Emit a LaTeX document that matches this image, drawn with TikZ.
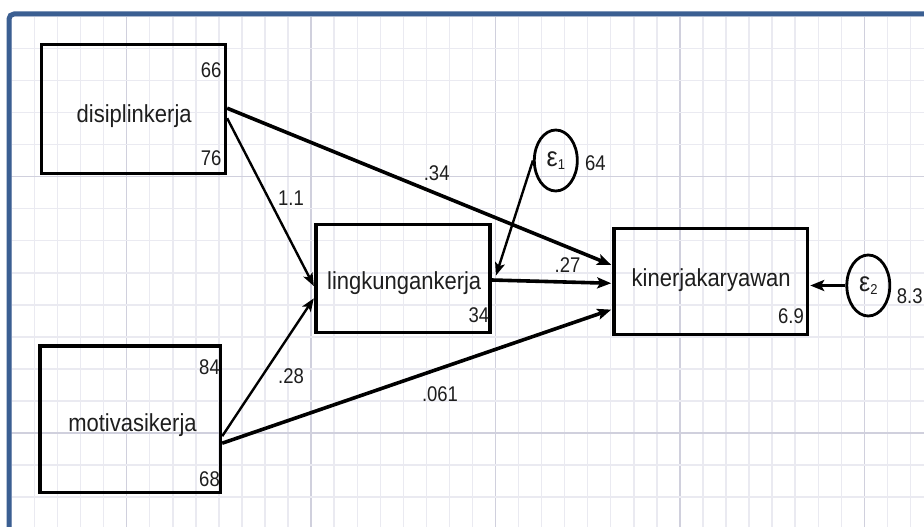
\documentclass[tikz,border=0pt]{standalone}
\usepackage{fontspec}
\setmainfont{Liberation Sans}
\usetikzlibrary{arrows.meta,calc,shapes.geometric}

\definecolor{frameblue}{HTML}{3B5F92}
\definecolor{gridminor}{HTML}{EAEAF1}
\definecolor{gridmajor}{HTML}{D0D0DD}
\definecolor{ink}{HTML}{1E1E1E}

% text settings: variable names and estimates are set slightly tall
\newcommand\namefont{\fontsize{22}{24}\selectfont}
\newcommand\numfont{\fontsize{18.5}{20}\selectfont}
\newcommand\tallname[1]{\scalebox{1}[1.12]{\namefont #1}}
\newcommand\tallnum[1]{\scalebox{1}[1.15]{\numfont #1}}
\newcommand\errlabel[1]{\scalebox{1}[1.1]{\fontsize{25}{26}\selectfont ε\raisebox{-3pt}{\fontsize{13}{13}\selectfont #1}}}

\begin{document}
\begin{tikzpicture}[x=1pt,y=-1pt,
  varbox/.style={draw=black, line width=3.3pt, inner sep=0pt},
  errnode/.style={ellipse, draw=black, line width=2.8pt, inner sep=0pt,
                  minimum width=43pt, minimum height=61pt, text=ink},
  nametext/.style={anchor=base, inner sep=0pt, text=ink},
  numtext/.style={anchor=base east, inner sep=0pt, text=ink},
  pathtext/.style={anchor=base, inner sep=0pt, text=ink},
  sidetext/.style={anchor=base west, inner sep=0pt, text=ink},
  thickpath/.style={draw=black, line width=3.6pt, shorten >=1pt,
                    -{Stealth[length=14pt,width=11pt,inset=3pt]}},
  thinpath/.style={draw=black, line width=2.4pt, shorten >=1pt,
                   -{Stealth[length=13pt,width=10pt,inset=3pt]}}]

\useasboundingbox (0,0) rectangle (924,527);
\clip (0,0) rectangle (924,527);
\fill[white] (0,0) rectangle (924,527);

% graph-paper background
\begin{scope}
  \clip (11,16) rectangle (924,527);
  \foreach \k in {-5,...,34}{
    \pgfmathsetmacro\gx{126.7+23.05*\k}
    \pgfmathtruncatemacro\m{mod(\k+40,8)}
    \ifnum\m=0
      \draw[gridmajor, line width=1.4pt] (\gx,0) -- (\gx,527);
    \else
      \draw[gridminor, line width=1.4pt] (\gx,0) -- (\gx,527);
    \fi
  }
  \foreach \k in {-5,...,10}{
    \pgfmathsetmacro\gy{176.7+32.04*\k}
    \pgfmathtruncatemacro\m{mod(\k+40,8)}
    \ifnum\m=0
      \draw[gridmajor, line width=1.4pt] (0,\gy) -- (924,\gy);
    \else
      \draw[gridminor, line width=1.4pt] (0,\gy) -- (924,\gy);
    \fi
  }
\end{scope}

% frame
\draw[frameblue, line width=5pt, rounded corners=5pt] (9,535) -- (9,14) -- (935,14);

% observed variables
\node[varbox, minimum width=184pt, minimum height=128.7pt] (dis) at (133.5,109.2) {};
\node[varbox, minimum width=180.7pt, minimum height=146.7pt] (mot) at (130.2,419.2) {};
\node[varbox, minimum width=174pt, minimum height=108.6pt] (lin) at (403,278.5) {};
\node[varbox, minimum width=193.7pt, minimum height=106.3pt] (kin) at (710.7,281.3) {};

\node[nametext] (disname) at (134.2,122.7) {\tallname{disiplinkerja}};
\node[nametext] (motname) at (132.5,431.7) {\tallname{motivasikerja}};
\node[nametext] (linname) at (404.2,289.3) {\tallname{lingkungankerja}};
\node[nametext] (kinname) at (711.2,286.7) {\tallname{kinerjakaryawan}};

% means and variances
\node[numtext] (dismean) at (221.7,77.3) {\tallnum{66}};
\node[numtext] (disvar)  at (221.7,165)  {\tallnum{76}};
\node[numtext] (motmean) at (220,374)    {\tallnum{84}};
\node[numtext] (motvar)  at (220,486.7)  {\tallnum{68}};
\node[numtext] (lincons) at (489.3,322.7) {\tallnum{34}};
\node[numtext] (kincons) at (804,323.3)  {\tallnum{6.9}};

% error terms
\node[errnode] (e1) at (555.8,160.5) {\errlabel{1}};
\node[errnode] (e2) at (868.3,285.5) {\errlabel{2}};
\node[sidetext] (e1var) at (585,170.7)   {\tallnum{64}};
\node[sidetext] (e2var) at (896.7,303.3) {\tallnum{8.3}};

% paths
\draw[thickpath] ([yshift=1pt]dis.east) -- ([yshift=16pt]kin.west);
\draw[thinpath]  ([yshift=-9pt]dis.east) -- ([yshift=-8.5pt]lin.west);
\draw[thinpath]  ([yshift=-17pt]mot.east) -- ([yshift=-19pt]lin.west);
\draw[thickpath] ([yshift=-24pt]mot.east) -- ([yshift=-28pt]kin.west);
\draw[thickpath] ([yshift=-1.5pt]lin.east) -- ([yshift=-2pt]kin.west);
\draw[thinpath]  (e1.west) -- ([xshift=4pt,yshift=2pt]lin.east);
\draw[thickpath] (e2.west) -- (e2.west -| kin.east);

% path coefficients
\node[pathtext] (c34)  at (436.7,180)   {\tallnum{.34}};
\node[pathtext] (c11)  at (291,205)     {\tallnum{1.1}};
\node[pathtext] (c28)  at (291,383.3)   {\tallnum{.28}};
\node[pathtext] (c061) at (440,401.7)   {\tallnum{.061}};
\node[pathtext] (c27)  at (567.5,272.7) {\tallnum{.27}};
\end{tikzpicture}
\end{document}
